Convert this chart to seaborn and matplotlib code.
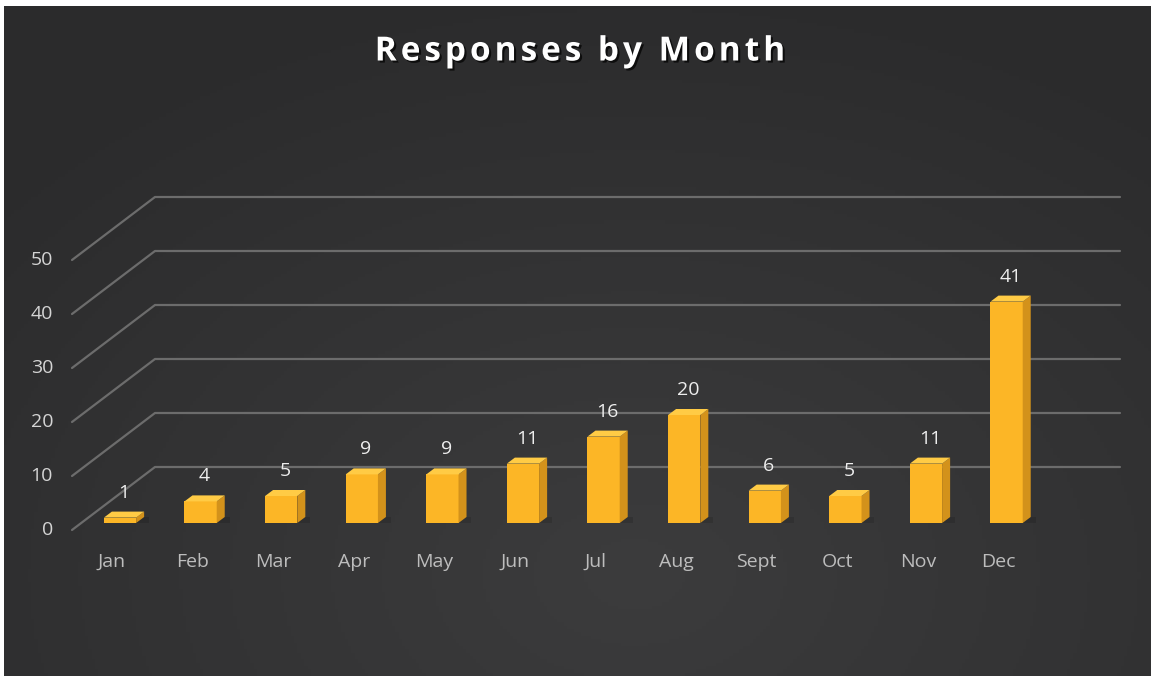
import numpy as np
import pandas as pd
import matplotlib
matplotlib.use("Agg")
import matplotlib.pyplot as plt
from matplotlib.patches import Polygon
import matplotlib.patheffects as pe
import seaborn as sns

# ---- data ----
months = ["Jan", "Feb", "Mar", "Apr", "May", "Jun",
          "Jul", "Aug", "Sept", "Oct", "Nov", "Dec"]
responses = [1, 4, 5, 9, 9, 11, 16, 20, 6, 5, 11, 41]
y_ticks = [0, 10, 20, 30, 40, 50]
title = "Responses by Month"

df = pd.DataFrame({"month": months, "responses": responses})

# ---- styling constants ----
W, H, DPI = 1151, 676, 100
BG_DARK = np.array([0x2b, 0x2b, 0x2c]) / 255
BG_LIGHT = np.array([0x3c, 0x3c, 0x3d]) / 255
GRID = "#6c6c6c"
FRONT = "#FCB626"
SIDE = "#D3921B"
TOP = "#FFCB45"
TICK_TXT = "#d4d4d4"
FONT = "Open Sans"

# pixel geometry of the plotting area (front-face centres / floor)
PX_X0, PX_STEP = 120.0, 80.6      # x pixel of first bar centre, spacing
PX_FLOOR, PX_UNIT = 523.0, 5.4    # y pixel of bar floor, pixels per unit
AX_L, AX_R, AX_T, AX_B = 40, 1130, 190, 539

# 3D depth offsets (data units)
DX, DY = 8 / PX_STEP, 6 / PX_UNIT
FRONT_DY = -7 / PX_UNIT     # front edge of the floor
BACK_DY = 56 / PX_UNIT      # back wall
X_FRONT = (72 - PX_X0) / PX_STEP
X_BACK = (155 - PX_X0) / PX_STEP
X_END = (1120 - PX_X0) / PX_STEP

sns.set_theme(style="dark")
plt.rcParams["font.family"] = [FONT, "DejaVu Sans"]

fig = plt.figure(figsize=(W / DPI, H / DPI), dpi=DPI, facecolor="white")

# ---- background panel with soft radial gradient ----
bg = fig.add_axes([4 / W, 0, 1 - 4 / W, 1 - 6 / H])
bg.set_axis_off()
gy, gx = np.mgrid[0:1:200j, 0:1:340j]
r = np.sqrt(((gx - 0.55) / 0.75) ** 2 + ((gy - 0.15) / 0.9) ** 2)
t = np.clip(r, 0, 1)[..., None]
img = BG_LIGHT * (1 - t) + BG_DARK * t
bg.imshow(img, origin="lower", aspect="auto", extent=[0, 1, 0, 1])
bg.set_xlim(0, 1)
bg.set_ylim(0, 1)

# ---- main axes ----
ax = fig.add_axes([AX_L / W, 1 - AX_B / H, (AX_R - AX_L) / W, (AX_B - AX_T) / H])
ax.patch.set_alpha(0)

sns.barplot(data=df, x="month", y="responses", ax=ax, width=0.4,
            color=FRONT, saturation=1, linewidth=0, zorder=3)

ax.set_xlim((AX_L - PX_X0) / PX_STEP, (AX_R - PX_X0) / PX_STEP)
ax.set_ylim((PX_FLOOR - AX_B) / PX_UNIT, (PX_FLOOR - AX_T) / PX_UNIT)
ax.set_axis_off()

# gridlines: diagonal floor lines plus back-wall lines
for v in y_ticks:
    ax.plot([X_FRONT, X_BACK, X_END], [v + FRONT_DY, v + BACK_DY, v + BACK_DY],
            color=GRID, lw=1.6, zorder=1, solid_capstyle="round")
    ax.text((53 - PX_X0) / PX_STEP, v + FRONT_DY, str(v), ha="right", va="center",
            color=TICK_TXT, fontsize=14, clip_on=False, zorder=5)

# 3D faces for each bar
for p, v in zip(ax.patches, responses):
    x0, y0, w, h = p.get_x(), p.get_y(), p.get_width(), p.get_height()
    xr = x0 + w
    # soft floor shadow
    ax.add_patch(Polygon([(x0 + 0.05, y0), (xr + DX + 0.06, y0),
                          (xr + DX + 0.06, y0 + DY), (x0 + DX, y0 + DY)],
                         closed=True, facecolor="black", alpha=0.12,
                         lw=0, zorder=2))
    ax.add_patch(Polygon([(xr, y0), (xr + DX, y0 + DY), (xr + DX, y0 + h + DY),
                          (xr, y0 + h)], closed=True, facecolor=SIDE, lw=0,
                         zorder=3))
    ax.add_patch(Polygon([(x0, y0 + h), (x0 + DX, y0 + h + DY),
                          (xr + DX, y0 + h + DY), (xr, y0 + h)], closed=True,
                         facecolor=TOP, lw=0, zorder=3))
    ax.text(x0 + w / 2 + DX / 2, y0 + h + DY + 19 / PX_UNIT, f"{v:g}",
            ha="center", va="center", color="#eeeeee", fontsize=14,
            zorder=5, clip_on=False)

# month labels
for i, m in enumerate(months):
    ax.text(i - 0.1, (PX_FLOOR - 562) / PX_UNIT, m, ha="center", va="center",
            color="#bdbdbd", fontsize=14, clip_on=False, zorder=5)

# title with letter tracking: lay out characters one by one
renderer = fig.canvas.get_renderer()
title_kw = dict(color="white", fontsize=24, fontweight="bold", va="center",
                ha="left",
                path_effects=[pe.withSimplePatchShadow(offset=(1.5, -1.5),
                                                       shadow_rgbFace="black",
                                                       alpha=0.7)])
tracking = 4.0  # extra pixels between characters
widths = []
for ch in title:
    probe = fig.text(0, 0, ch if ch != " " else "a a", **title_kw)
    wpx = probe.get_window_extent(renderer).width
    if ch == " ":
        probe2 = fig.text(0, 0, "aa", **title_kw)
        wpx = wpx - probe2.get_window_extent(renderer).width
        probe2.remove()
    probe.remove()
    widths.append(wpx)
total = sum(widths) + tracking * (len(title) - 1)
xpx = 580 - total / 2
for ch, wpx in zip(title, widths):
    if ch != " ":
        fig.text(xpx / W, 1 - 52 / H, ch, **title_kw)
    xpx += wpx + tracking

fig.savefig("out.png", dpi=DPI, facecolor=fig.get_facecolor())
